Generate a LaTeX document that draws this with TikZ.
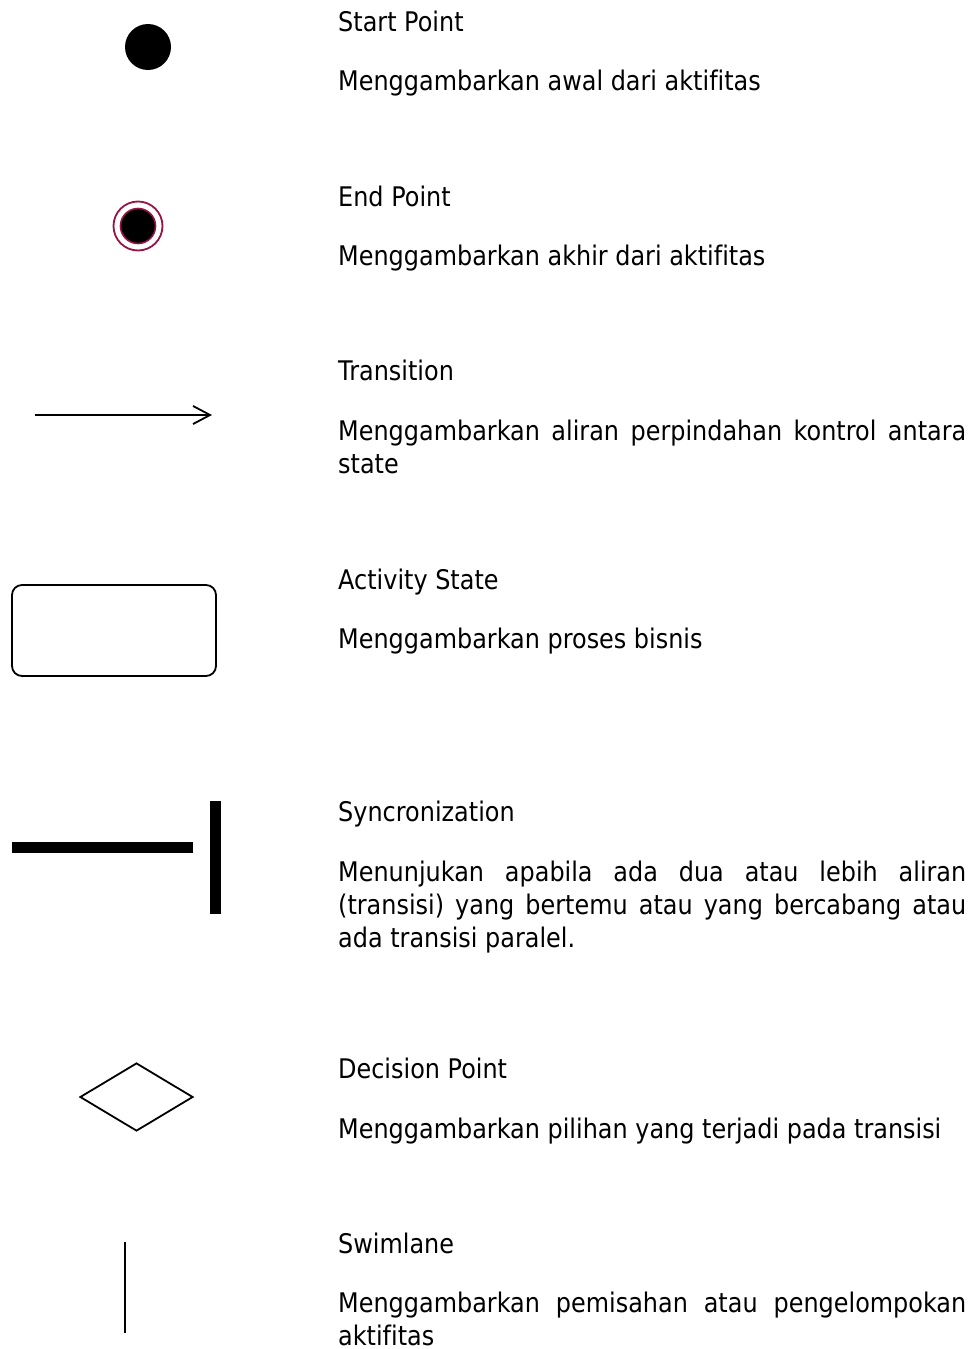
\documentclass[tikz,border=0pt]{standalone}
\usepackage{fontspec}
\setmainfont{DejaVu Sans}[FakeStretch=0.886,Ligatures=NoCommon]
\usetikzlibrary{arrows.meta,shapes.geometric}
\definecolor{ring}{RGB}{150,20,70}
\hyphenpenalty=10000
\exhyphenpenalty=10000
\begin{document}
\begin{tikzpicture}[x=1pt,y=-1pt,
	judul/.style={anchor=base west,inner sep=0pt,font=\fontsize{27}{33}\selectfont},
	ket/.style={judul,text width=628pt,align=justify}]
	\useasboundingbox (0,0) rectangle (974,1349);
	% simbol
	\node[circle,fill=black,minimum size=46pt,inner sep=0pt] (start) at (148,47) {};
	\node[circle,draw=ring,line width=1.8pt,minimum size=49pt,inner sep=0pt] (endo) at (138,226) {};
	\node[circle,fill=black,draw=ring,line width=1.6pt,minimum size=35pt,inner sep=0pt] (endi) at (endo) {};
	\coordinate (ta) at (35,415);
	\coordinate (tb) at (212,415);
	\draw[line width=1.8pt,-{Straight Barb[length=17pt,width=18pt]}] (ta) -- (tb);
	\node[draw,line width=1.8pt,rounded corners=10pt,minimum width=204pt,minimum height=91pt] (act) at (114,630.5) {};
	\node[fill=black,minimum width=181pt,minimum height=11pt,inner sep=0pt] (hbar) at (102.5,847.5) {};
	\node[fill=black,minimum width=11pt,minimum height=113pt,inner sep=0pt] (vbar) at (215.5,857.5) {};
	\node[diamond,draw,line width=1.8pt,minimum width=113pt,minimum height=68pt,inner sep=0pt] (dec) at (136.5,1097) {};
	\draw[line width=2pt] (125,1242) -- (125,1333);
	% teks
	\node[judul] (t1) at (338,31) {Start Point};
	\node[ket] (k1) at (338,90) {Menggambarkan awal dari aktifitas};
	\node[judul] (t2) at (338,206) {End Point};
	\node[ket] (k2) at (338,265) {Menggambarkan akhir dari aktifitas};
	\node[judul] (t3) at (338,380) {Transition};
	\node[ket] (k3) at (338,440) {Menggambarkan aliran perpindahan kontrol antara state};
	\node[judul] (t4) at (338,589) {Activity State};
	\node[ket] (k4) at (338,648) {Menggambarkan proses bisnis};
	\node[judul] (t5) at (338,821) {Syncronization};
	\node[ket] (k5) at (338,881) {Menunjukan apabila ada dua atau lebih aliran (transisi) yang bertemu atau yang bercabang atau ada transisi paralel.};
	\node[judul] (t6) at (338,1078) {Decision Point};
	\node[ket] (k6) at (338,1138) {Menggambarkan pilihan yang terjadi pada transisi};
	\node[judul] (t7) at (338,1253) {Swimlane};
	\node[ket] (k7) at (338,1312) {Menggambarkan pemisahan atau pengelompokan aktifitas};
\end{tikzpicture}
\end{document}
